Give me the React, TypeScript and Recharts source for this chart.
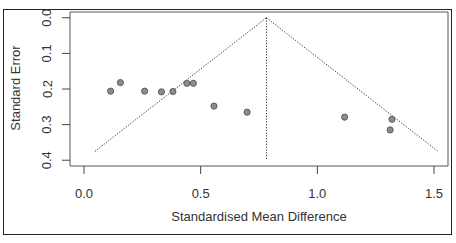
import React from "react";
import {
  ScatterChart,
  Scatter,
  XAxis,
  YAxis,
  ReferenceLine,
  ReferenceArea,
  Label,
} from "recharts";

// study effects (SMD) and their standard errors
const studySMD = [0.114, 0.156, 0.26, 0.332, 0.381, 0.441, 0.469, 0.557, 0.699, 1.117, 1.32, 1.312];
const studySE = [0.206, 0.182, 0.206, 0.208, 0.207, 0.184, 0.184, 0.248, 0.265, 0.279, 0.285, 0.315];

// funnel outline: left foot, apex, right foot
const funnelSMD = [0.047, 0.782, 1.517];
const funnelSE = [0.375, 0, 0.375];
const pooledLineSE = [0, 0.4];

const xTicks = [0, 0.5, 1, 1.5];
const yTicks = [0, 0.1, 0.2, 0.3, 0.4];
const xDomain = [-0.06, 1.56];
const yDomain = [-0.0162, 0.4162];

const data = studySMD.map((x, i) => ({ x, se: studySE[i] }));

const FONT = '"Liberation Sans", Arial, sans-serif';
const INK = "#333";

const XTick = (props: any) => {
  const { x, payload } = props;
  return (
    <text x={x} y={198} textAnchor="middle" fontSize={13} fontFamily={FONT} fill={INK}>
      {payload.value.toFixed(1)}
    </text>
  );
};

const YTick = (props: any) => {
  const { y, payload } = props;
  return (
    <text
      x={47}
      y={y}
      transform={`rotate(-90, 47, ${y})`}
      textAnchor="middle"
      dominantBaseline="central"
      fontSize={13}
      fontFamily={FONT}
      fill={INK}
    >
      {payload.value.toFixed(1)}
    </text>
  );
};

const Dot = (props: any) => (
  <circle cx={props.cx} cy={props.cy} r={3.1} fill="#8c8c8c" stroke="#4a4a4a" strokeWidth={0.8} />
);

const dotted = { stroke: "#333", strokeWidth: 1, strokeDasharray: "1.2 1.6" };

export default function App() {
  return (
    <div style={{ position: "absolute", left: 0, top: 0, width: 456, height: 243, background: "#fff" }}>
      <div
        style={{
          position: "absolute",
          left: 3,
          top: 9,
          width: 447,
          height: 224,
          border: "1.5px solid #222",
        }}
      />
      <div style={{ position: "absolute", left: 0, top: 0 }}>
        <ScatterChart width={456} height={243} margin={{ top: 12, right: 8, bottom: 0, left: 0 }}>
          <XAxis
            type="number"
            dataKey="x"
            domain={xDomain}
            ticks={xTicks}
            allowDataOverflow
            axisLine={false}
            tickSize={8}
            tickLine={{ stroke: "#444" }}
            tick={<XTick />}
            height={77}
          >
            <Label
              content={() => (
                <text x={259} y={221} textAnchor="middle" fontSize={13} fontFamily={FONT} fill={INK}>
                  Standardised Mean Difference
                </text>
              )}
            />
          </XAxis>
          <YAxis
            type="number"
            dataKey="se"
            domain={yDomain}
            ticks={yTicks}
            reversed
            allowDataOverflow
            axisLine={false}
            tickSize={8}
            tickLine={{ stroke: "#444" }}
            tick={<YTick />}
            width={70}
          >
            <Label
              content={() => (
                <text
                  x={15}
                  y={88}
                  transform="rotate(-90, 15, 88)"
                  textAnchor="middle"
                  dominantBaseline="central"
                  fontSize={13}
                  fontFamily={FONT}
                  fill={INK}
                >
                  Standard Error
                </text>
              )}
            />
          </YAxis>
          <ReferenceArea
            x1={xDomain[0]}
            x2={xDomain[1]}
            y1={yDomain[0]}
            y2={yDomain[1]}
            fill="none"
            stroke="#555"
            strokeWidth={1}
            ifOverflow="visible"
          />
          <ReferenceLine
            segment={[
              { x: funnelSMD[0], y: funnelSE[0] },
              { x: funnelSMD[1], y: funnelSE[1] },
            ]}
            {...dotted}
          />
          <ReferenceLine
            segment={[
              { x: funnelSMD[1], y: funnelSE[1] },
              { x: funnelSMD[2], y: funnelSE[2] },
            ]}
            {...dotted}
          />
          <ReferenceLine
            segment={[
              { x: funnelSMD[1], y: pooledLineSE[0] },
              { x: funnelSMD[1], y: pooledLineSE[1] },
            ]}
            {...dotted}
          />
          <Scatter data={data} shape={<Dot />} isAnimationActive={false} />
        </ScatterChart>
      </div>
    </div>
  );
}
